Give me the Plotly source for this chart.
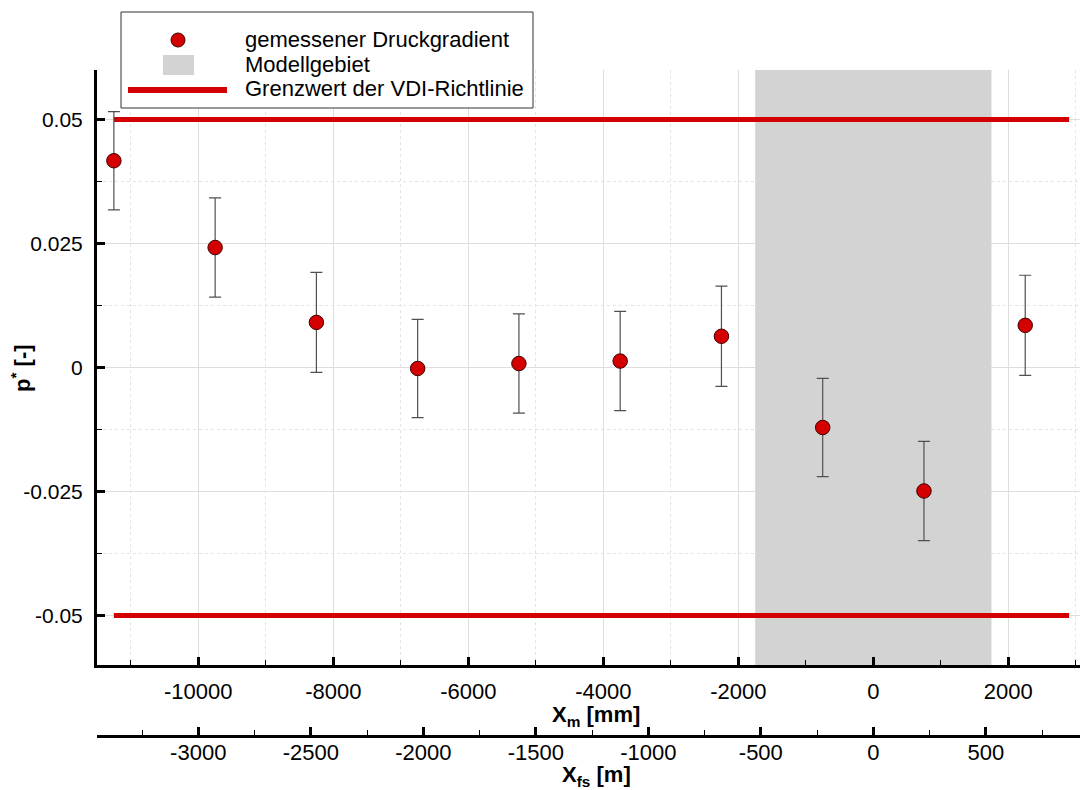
import plotly.graph_objects as go

# ---------------- data ----------------
X_MM = [-11250, -9750, -8250, -6750, -5250, -3750, -2250, -750, 750, 2250]
P_STAR = [0.0417, 0.0242, 0.0091, -0.0002, 0.0008, 0.0013, 0.0063, -0.0121, -0.0249, 0.0085]
P_ERR = [0.0099, 0.0100, 0.0101, 0.0099, 0.0100, 0.0100, 0.0101, 0.0099, 0.0100, 0.0101]

LIMIT_Y = [0.05, -0.05]
LIMIT_X = [-11250, 2900]
MODEL_X = [-1750, 1750]

SCALE_FS = 0.3          # X_fs [m] = X_m [mm] * 0.3  (model scale 1:300)
X_RANGE = [-11500, 3180]
Y_RANGE = [-0.06, 0.06]

X_TICKS = [-10000, -8000, -6000, -4000, -2000, 0, 2000]
X_TICK_LABELS = ["-10000", "-8000", "-6000", "-4000", "-2000", "0", "2000"]
FS_TICKS = [-3000, -2500, -2000, -1500, -1000, -500, 0, 500]
FS_TICK_LABELS = ["-3000", "-2500", "-2000", "-1500", "-1000", "-500", "0", "500"]
Y_TICKS = [-0.05, -0.025, 0, 0.025, 0.05]
Y_TICK_LABELS = ["-0.05", "-0.025", "0", "0.025", "0.05"]

NAMES = ["gemessener Druckgradient", "Modellgebiet", "Grenzwert der VDI-Richtlinie"]

RED = "#d40000"
GREY_FILL = "#d3d3d3"
FONT = "Liberation Sans, Arial, sans-serif"

# ---------------- geometry (pixels, page body has an 8px margin) ----------------
OFF = 8
W, H = 1088 - OFF, 790 - OFF
ML, MR, MT, MB = 97 - OFF, 0, 70 - OFF, 54
PW, PH = W - ML - MR, H - MT - MB
PAPER_BOTTOM = 736            # reference pixel of second axis line
AXIS_Y_PX = 665               # reference pixel of main x-axis line
Y_DOMAIN0 = (PAPER_BOTTOM - AXIS_Y_PX) / PH


def px_x(x):
    return (x - 97) / PW


def px_y(y):
    return (PAPER_BOTTOM - y) / PH


fig = go.Figure()

# shaded model region
fig.add_trace(go.Scatter(
    x=[MODEL_X[0], MODEL_X[1], MODEL_X[1], MODEL_X[0], MODEL_X[0]],
    y=[Y_RANGE[0], Y_RANGE[0], Y_RANGE[1], Y_RANGE[1], Y_RANGE[0]],
    mode="lines", fill="toself", fillcolor=GREY_FILL, name=NAMES[1],
    line=dict(width=0, color=GREY_FILL), showlegend=False, hoverinfo="skip"))

# limit lines
lx, ly = [], []
for yv in LIMIT_Y:
    lx += [LIMIT_X[0], LIMIT_X[1], None]
    ly += [yv, yv, None]
fig.add_trace(go.Scatter(x=lx, y=ly, mode="lines", name=NAMES[2], showlegend=False,
                         line=dict(color=RED, width=5)))

# measured points
fig.add_trace(go.Scatter(
    x=X_MM, y=P_STAR, mode="markers", name=NAMES[0], showlegend=False,
    marker=dict(size=14.5, color=RED, line=dict(color="#400000", width=1)),
    error_y=dict(type="data", array=P_ERR, visible=True, color="#505050",
                 thickness=1.2, width=6)))

# same points on the full-scale axis (invisible, keeps xaxis2 drawn)
fig.add_trace(go.Scatter(
    x=[v * SCALE_FS for v in X_MM], y=P_STAR, xaxis="x2", mode="markers",
    marker=dict(size=1, opacity=0), showlegend=False, hoverinfo="skip"))

fig.update_layout(
    width=W, height=H,
    margin=dict(l=ML, r=MR, t=MT, b=MB, autoexpand=False),
    paper_bgcolor="white", plot_bgcolor="white",
    font=dict(family=FONT, size=22, color="black"),
    showlegend=False,
    xaxis=dict(
        anchor="y", range=X_RANGE, tickmode="array", tickvals=X_TICKS, ticktext=X_TICK_LABELS,
        ticks="inside", ticklen=8, tickwidth=3, tickcolor="black",
        showline=True, linewidth=3, linecolor="black", mirror=False,
        showgrid=True, gridcolor="#dedede", gridwidth=1, zeroline=False,
        tickfont=dict(size=22), ticklabelstandoff=5,
        minor=dict(tickmode="linear", tick0=0, dtick=1000, ticks="inside", ticklen=5,
                   tickwidth=1, tickcolor="black", showgrid=True, griddash="dot",
                   gridcolor="#e4e4e4", gridwidth=1)),
    xaxis2=dict(
        overlaying="x", anchor="free", position=0, side="bottom",
        range=[r * SCALE_FS for r in X_RANGE], tickmode="array",
        tickvals=FS_TICKS, ticktext=FS_TICK_LABELS,
        ticks="inside", ticklen=8, tickwidth=3, tickcolor="black",
        showline=True, linewidth=3, linecolor="black",
        showgrid=False, zeroline=False, tickfont=dict(size=22), ticklabelstandoff=-4,
        minor=dict(tickmode="linear", tick0=0, dtick=250, ticks="inside", ticklen=5,
                   tickwidth=1, tickcolor="black", showgrid=False)),
    yaxis=dict(
        domain=[Y_DOMAIN0, 1], range=Y_RANGE, tickmode="array",
        tickvals=Y_TICKS, ticktext=Y_TICK_LABELS,
        ticks="inside", ticklen=8, tickwidth=3, tickcolor="black",
        showline=True, linewidth=3, linecolor="black", mirror=False,
        showgrid=True, gridcolor="#dedede", gridwidth=1, zeroline=False,
        tickfont=dict(size=21), ticklabelstandoff=7,
        minor=dict(tickmode="linear", tick0=0, dtick=0.0125, ticks="inside", ticklen=5,
                   tickwidth=1, tickcolor="black", showgrid=True, griddash="dot",
                   gridcolor="#e4e4e4", gridwidth=1)),
)

# axis titles
fig.add_annotation(text="<b>X<sub>m</sub> [mm]</b>", xref="paper", yref="paper",
                   x=px_x(596), y=px_y(716), showarrow=False,
                   xanchor="center", yanchor="middle", font=dict(size=22))
fig.add_annotation(text="<b>X<sub>fs</sub> [m]</b>", xref="paper", yref="paper",
                   x=px_x(596), y=px_y(776), showarrow=False,
                   xanchor="center", yanchor="middle", font=dict(size=22))
fig.add_annotation(text="<b>p<sup>*</sup> [-]</b>", xref="paper", yref="paper",
                   x=px_x(21), y=px_y(368), showarrow=False,
                   textangle=-90, xanchor="center", yanchor="middle", font=dict(size=22))

# legend (box, swatches, labels)
fig.add_shape(type="rect", xref="paper", yref="paper", layer="above",
              x0=px_x(121), x1=px_x(533), y0=px_y(108), y1=px_y(12),
              fillcolor="white", line=dict(color="#333333", width=1))
fig.add_shape(type="circle", xref="paper", yref="paper", layer="above",
              x0=px_x(171), x1=px_x(185), y0=px_y(47), y1=px_y(33),
              fillcolor=RED, line=dict(color="#400000", width=1))
fig.add_shape(type="rect", xref="paper", yref="paper", layer="above",
              x0=px_x(163), x1=px_x(194), y0=px_y(75), y1=px_y(55),
              fillcolor=GREY_FILL, line=dict(width=0))
fig.add_shape(type="line", xref="paper", yref="paper", layer="above",
              x0=px_x(128), x1=px_x(227), y0=px_y(90), y1=px_y(90),
              line=dict(color=RED, width=6))
for name, yc in zip(NAMES, [39, 64, 89]):
    fig.add_annotation(text=name, xref="paper", yref="paper", x=px_x(243), y=px_y(yc),
                       showarrow=False, xanchor="left", yanchor="middle",
                       font=dict(size=22, color="black"))

fig.write_html("out.html")
